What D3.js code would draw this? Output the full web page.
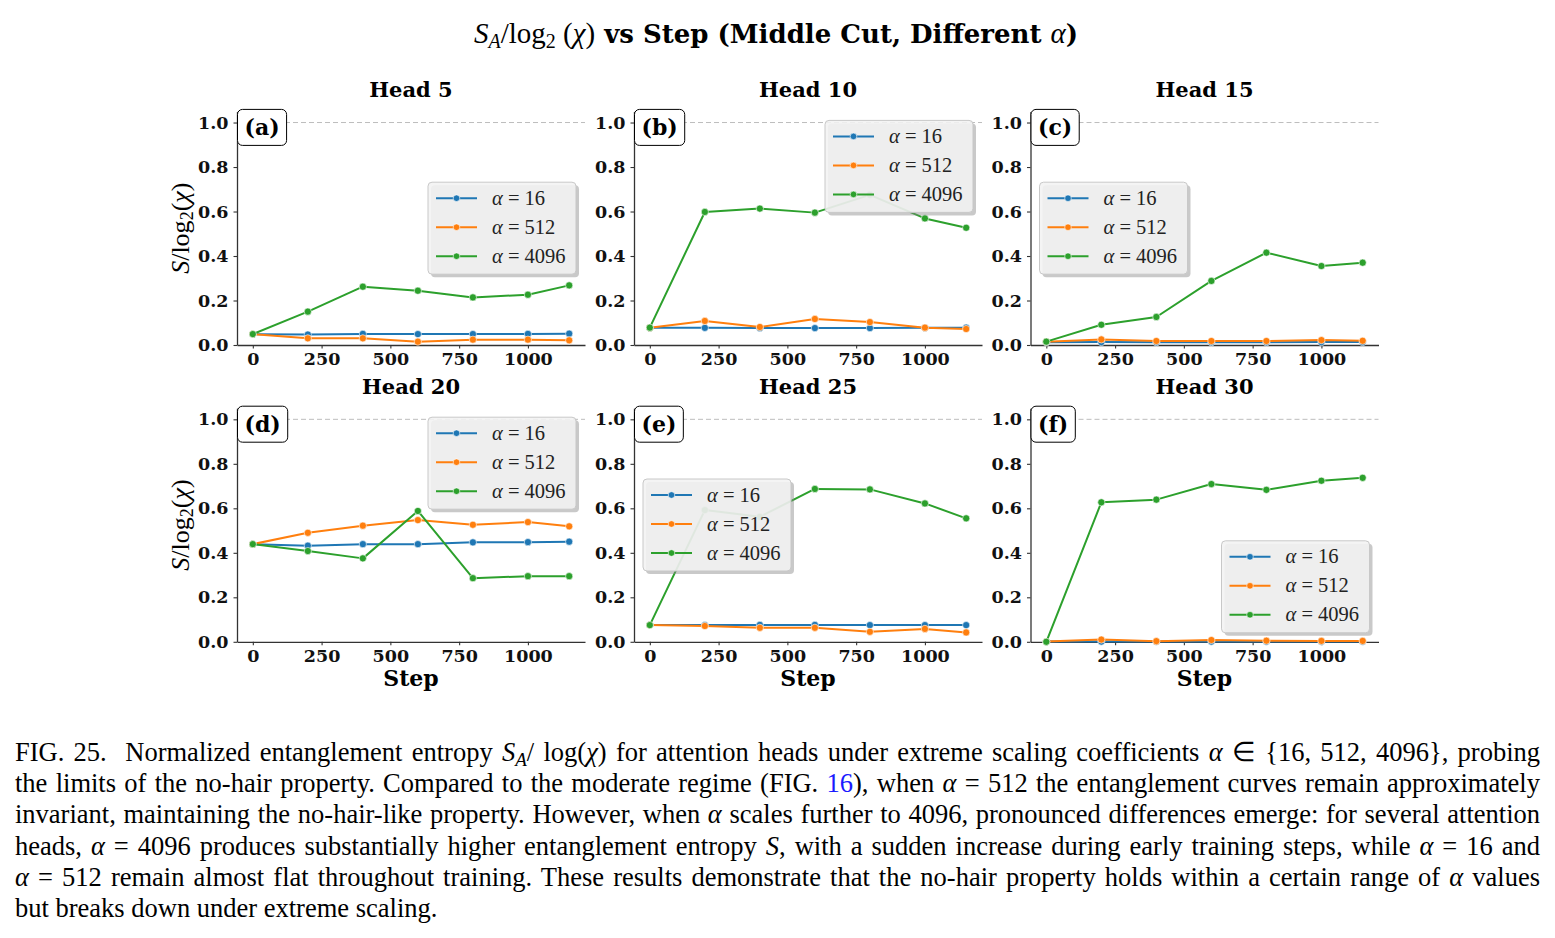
<!DOCTYPE html>
<html>
<head>
<meta charset="utf-8">
<script src="https://cdn.jsdelivr.net/npm/d3@7"></script>
<style>
  body { margin: 0; background: #fff; }
  svg { display: block; }
</style>
</head>
<body>
<svg id="fig" width="1555" height="938"></svg>
<script>
// training steps (x) shared by all panels
var steps = [0, 200, 400, 600, 800, 1000, 1150];
var alphas = ["16", "512", "4096"];
var heads = ["Head 5", "Head 10", "Head 15", "Head 20", "Head 25", "Head 30"];
var tags = ["(a)", "(b)", "(c)", "(d)", "(e)", "(f)"];
var xTicks = [0, 250, 500, 750, 1000];
var yTicks = [0, 0.2, 0.4, 0.6, 0.8, 1.0];

// S/log2(chi), rows = alpha 16, 512, 4096
var head5  = [[0.048, 0.047, 0.050, 0.049, 0.049, 0.050, 0.051],
              [0.049, 0.030, 0.030, 0.015, 0.024, 0.024, 0.021],
              [0.049, 0.150, 0.262, 0.244, 0.214, 0.226, 0.268]];
var head10 = [[0.077, 0.077, 0.076, 0.076, 0.076, 0.077, 0.078],
              [0.078, 0.108, 0.081, 0.117, 0.103, 0.078, 0.072],
              [0.078, 0.598, 0.613, 0.595, 0.675, 0.569, 0.527]];
var head15 = [[0.012, 0.013, 0.012, 0.012, 0.012, 0.013, 0.013],
              [0.015, 0.025, 0.018, 0.018, 0.018, 0.022, 0.019],
              [0.015, 0.091, 0.126, 0.288, 0.415, 0.355, 0.370]];
var head20 = [[0.439, 0.432, 0.439, 0.439, 0.447, 0.448, 0.450],
              [0.439, 0.490, 0.522, 0.547, 0.526, 0.538, 0.519],
              [0.439, 0.408, 0.375, 0.588, 0.286, 0.295, 0.295]];
var head25 = [[0.075, 0.075, 0.076, 0.076, 0.075, 0.075, 0.075],
              [0.075, 0.071, 0.063, 0.063, 0.045, 0.058, 0.042],
              [0.075, 0.592, 0.562, 0.687, 0.685, 0.622, 0.555]];
var head30 = [[0.001, 0.001, 0.001, 0.001, 0.001, 0.001, 0.001],
              [0.001, 0.010, 0.003, 0.008, 0.005, 0.004, 0.004],
              [0.000, 0.627, 0.639, 0.709, 0.683, 0.724, 0.737]];
var panelData = [head5, head10, head15, head20, head25, head30];

var colors = ["#1f77b4", "#ff7f0e", "#2ca02c"];
var legendLoc = ["center right", "upper right", "center left", "upper right", "center left", "lower right"];

var svg = d3.select("#fig");
var colLeft = [237, 634, 1030.5], rowTop = [111.4, 408.2];
var aw = 348, ah = 233.6;

function tsp(sel, t, fam, size, opts) {
  opts = opts || {};
  var s = sel.append("tspan").text(t).style("font-family", fam).style("font-size", size + "px");
  if (opts.it) s.style("font-style", "italic");
  if (opts.b) s.style("font-weight", "bold");
  if (opts.dy) s.attr("dy", opts.dy);
  if (opts.fill) s.attr("fill", opts.fill);
  return s;
}

// suptitle
var title = svg.append("text").attr("x", 776).attr("y", 43).attr("text-anchor", "middle")
  .style("white-space", "pre");
tsp(title, "S", "Liberation Serif", 29, {it: 1});
tsp(title, "A", "Liberation Serif", 20, {it: 1, dy: 5});
tsp(title, "/log", "Liberation Serif", 29, {dy: -5});
tsp(title, "2", "Liberation Serif", 20, {dy: 5});
tsp(title, " (", "Liberation Serif", 29, {dy: -5});
tsp(title, "χ", "Liberation Serif", 29, {it: 1});
tsp(title, ")", "Liberation Serif", 29);
tsp(title, " vs Step (Middle Cut, Different ", "DejaVu Serif", 26, {b: 1});
tsp(title, "α", "Liberation Serif", 29, {it: 1});
tsp(title, ")", "DejaVu Serif", 26, {b: 1});

panelData.forEach(function(series, p) {
  var r = Math.floor(p / 3), c = p % 3;
  var left = colLeft[c], top = rowTop[r];
  var x = d3.scaleLinear().domain([-57.5, 1207.5]).range([left, left + aw]);
  var y = d3.scaleLinear().domain([0, 1.05]).range([top + ah, top]);
  var g = svg.append("g");

  // reference line at 1.0
  g.append("line").attr("x1", left).attr("x2", left + aw)
    .attr("y1", y(1)).attr("y2", y(1))
    .attr("stroke", "#bdbdbd").attr("stroke-width", 1).attr("stroke-dasharray", "5,3");

  var xa = g.append("g").attr("transform", "translate(0," + (top + ah) + ")")
    .call(d3.axisBottom(x).tickValues(xTicks).tickFormat(d3.format("d"))
      .tickSize(3.5).tickSizeOuter(0).tickPadding(4.5));
  var ya = g.append("g").attr("transform", "translate(" + left + ",0)")
    .call(d3.axisLeft(y).tickValues(yTicks).tickFormat(d3.format(".1f"))
      .tickSize(3.5).tickSizeOuter(0).tickPadding(5));
  [xa, ya].forEach(function(a) {
    a.select(".domain").attr("stroke", "#333").attr("stroke-width", 1.3);
    a.selectAll(".tick line").attr("stroke", "#333").attr("stroke-width", 1.1);
    a.selectAll(".tick text").attr("fill", "#111")
      .style("font-family", "DejaVu Serif").style("font-weight", "bold").style("font-size", "17.5px");
  });

  var line = d3.line().x(function(d, i) { return x(steps[i]); }).y(function(d) { return y(d); });
  series.forEach(function(vals, k) {
    g.append("path").datum(vals).attr("d", line).attr("fill", "none")
      .attr("stroke", colors[k]).attr("stroke-width", 2).attr("stroke-linejoin", "round");
    g.selectAll(".m" + k).data(vals).enter().append("circle")
      .attr("cx", function(d, i) { return x(steps[i]); })
      .attr("cy", function(d) { return y(d); })
      .attr("r", 3.6).attr("fill", colors[k]).attr("stroke", "#fff").attr("stroke-width", 0.6);
  });

  // subplot title
  g.append("text").attr("x", left + aw / 2).attr("y", top - 14).attr("text-anchor", "middle")
    .style("font-family", "DejaVu Serif").style("font-weight", "bold").style("font-size", "21px")
    .text(heads[p]);

  // panel tag box
  var tg = g.append("g");
  var tt = tg.append("text").attr("x", left + 25).attr("y", top + 23.5).attr("text-anchor", "middle")
    .style("font-family", "DejaVu Serif").style("font-weight", "bold").style("font-size", "22px")
    .text(tags[p]);
  var tw = tt.node().getComputedTextLength();
  tt.attr("x", left + 0.5 + (tw + 14) / 2);
  tg.insert("rect", "text").attr("x", left + 0.5).attr("y", top - 2).attr("width", tw + 14).attr("height", 36)
    .attr("rx", 5).attr("fill", "#fff").attr("stroke", "#000").attr("stroke-width", 1);

  // legend
  var lw = 148, lh = 92, pad = 9, lx, ly;
  var loc = legendLoc[p];
  lx = loc.indexOf("right") >= 0 ? left + aw - pad - lw : left + pad;
  if (loc.indexOf("upper") >= 0) ly = top + pad;
  else if (loc.indexOf("lower") >= 0) ly = top + ah - pad - lh;
  else ly = top + ah / 2 - lh / 2;
  var lg = g.append("g").attr("transform", "translate(" + lx + "," + ly + ")");
  lg.append("rect").attr("x", 3).attr("y", 3).attr("width", lw).attr("height", lh).attr("rx", 4)
    .attr("fill", "#888").attr("opacity", 0.45);
  lg.append("rect").attr("width", lw).attr("height", lh).attr("rx", 4)
    .attr("fill", "#f3f3f3").attr("fill-opacity", 0.88).attr("stroke", "#c8c8c8").attr("stroke-width", 1);
  alphas.forEach(function(a, k) {
    var cy = 16 + k * 29;
    lg.append("line").attr("x1", 8).attr("x2", 49).attr("y1", cy).attr("y2", cy)
      .attr("stroke", colors[k]).attr("stroke-width", 2);
    lg.append("circle").attr("cx", 28.5).attr("cy", cy).attr("r", 3.3).attr("fill", colors[k])
      .attr("stroke", "#fff").attr("stroke-width", 0.6);
    var t = lg.append("text").attr("x", 64).attr("y", cy + 6.5).style("white-space", "pre").attr("fill", "#222");
    tsp(t, "α", "Liberation Serif", 20.5, {it: 1});
    tsp(t, " = " + a, "Liberation Serif", 20.5);
  });

  // axis labels
  if (r === 1) {
    g.append("text").attr("x", left + aw / 2).attr("y", top + ah + 44).attr("text-anchor", "middle")
      .style("font-family", "DejaVu Serif").style("font-weight", "bold").style("font-size", "22px")
      .text("Step");
  }
  if (c === 0) {
    var yl = g.append("text").attr("text-anchor", "middle").style("white-space", "pre")
      .attr("transform", "translate(189," + (top + ah / 2) + ") rotate(-90)");
    tsp(yl, "S", "Liberation Serif", 26, {it: 1});
    tsp(yl, "/log", "Liberation Serif", 26);
    tsp(yl, "2", "Liberation Serif", 18, {dy: 4});
    tsp(yl, "(", "Liberation Serif", 26, {dy: -4});
    tsp(yl, "χ", "Liberation Serif", 26, {it: 1});
    tsp(yl, ")", "Liberation Serif", 26);
  }
});

// caption, justified line by line
var capLines = [
  [["FIG. 25.  Normalized entanglement entropy ", ""], ["S", "i"], ["A", "sub"], ["/ log(", ""], ["χ", "i"],
   [") for attention heads under extreme scaling coefficients ", ""], ["α", "i"], [" ∈ {16, 512, 4096}, probing", ""]],
  [["the limits of the no-hair property. Compared to the moderate regime (FIG. ", ""], ["16", "blue"],
   ["), when ", ""], ["α", "i"], [" = 512 the entanglement curves remain approximately", ""]],
  [["invariant, maintaining the no-hair-like property. However, when ", ""], ["α", "i"],
   [" scales further to 4096, pronounced differences emerge: for several attention", ""]],
  [["heads, ", ""], ["α", "i"], [" = 4096 produces substantially higher entanglement entropy ", ""], ["S", "i"],
   [", with a sudden increase during early training steps, while ", ""], ["α", "i"], [" = 16 and", ""]],
  [["α", "i"], [" = 512 remain almost flat throughout training. These results demonstrate that the no-hair property holds within a certain range of ", ""],
   ["α", "i"], [" values", ""]],
  [["but breaks down under extreme scaling.", ""]]
];
var capX = 15, capW = 1525;
capLines.forEach(function(segs, i) {
  var t = svg.append("text").attr("x", capX).attr("y", 761 + i * 31.2).style("white-space", "pre")
    .style("font-family", "Liberation Serif").style("font-size", "26.5px").attr("fill", "#000");
  var shift = 0, spaces = 0;
  segs.forEach(function(s) {
    var ts = t.append("tspan").text(s[0]);
    var want = 0;
    if (s[1] === "i" || s[1] === "sub") ts.style("font-style", "italic");
    if (s[1] === "sub") { ts.style("font-size", "19px"); want = 5; }
    if (s[1] === "blue") ts.attr("fill", "#1a1aff");
    if (want !== shift) { ts.attr("dy", want - shift); shift = want; }
    spaces += (s[0].match(/ /g) || []).length;
  });
  if (i < capLines.length - 1) {
    var len = t.node().getComputedTextLength();
    t.attr("word-spacing", (capW - len) / spaces);
  }
});
</script>
</body>
</html>
